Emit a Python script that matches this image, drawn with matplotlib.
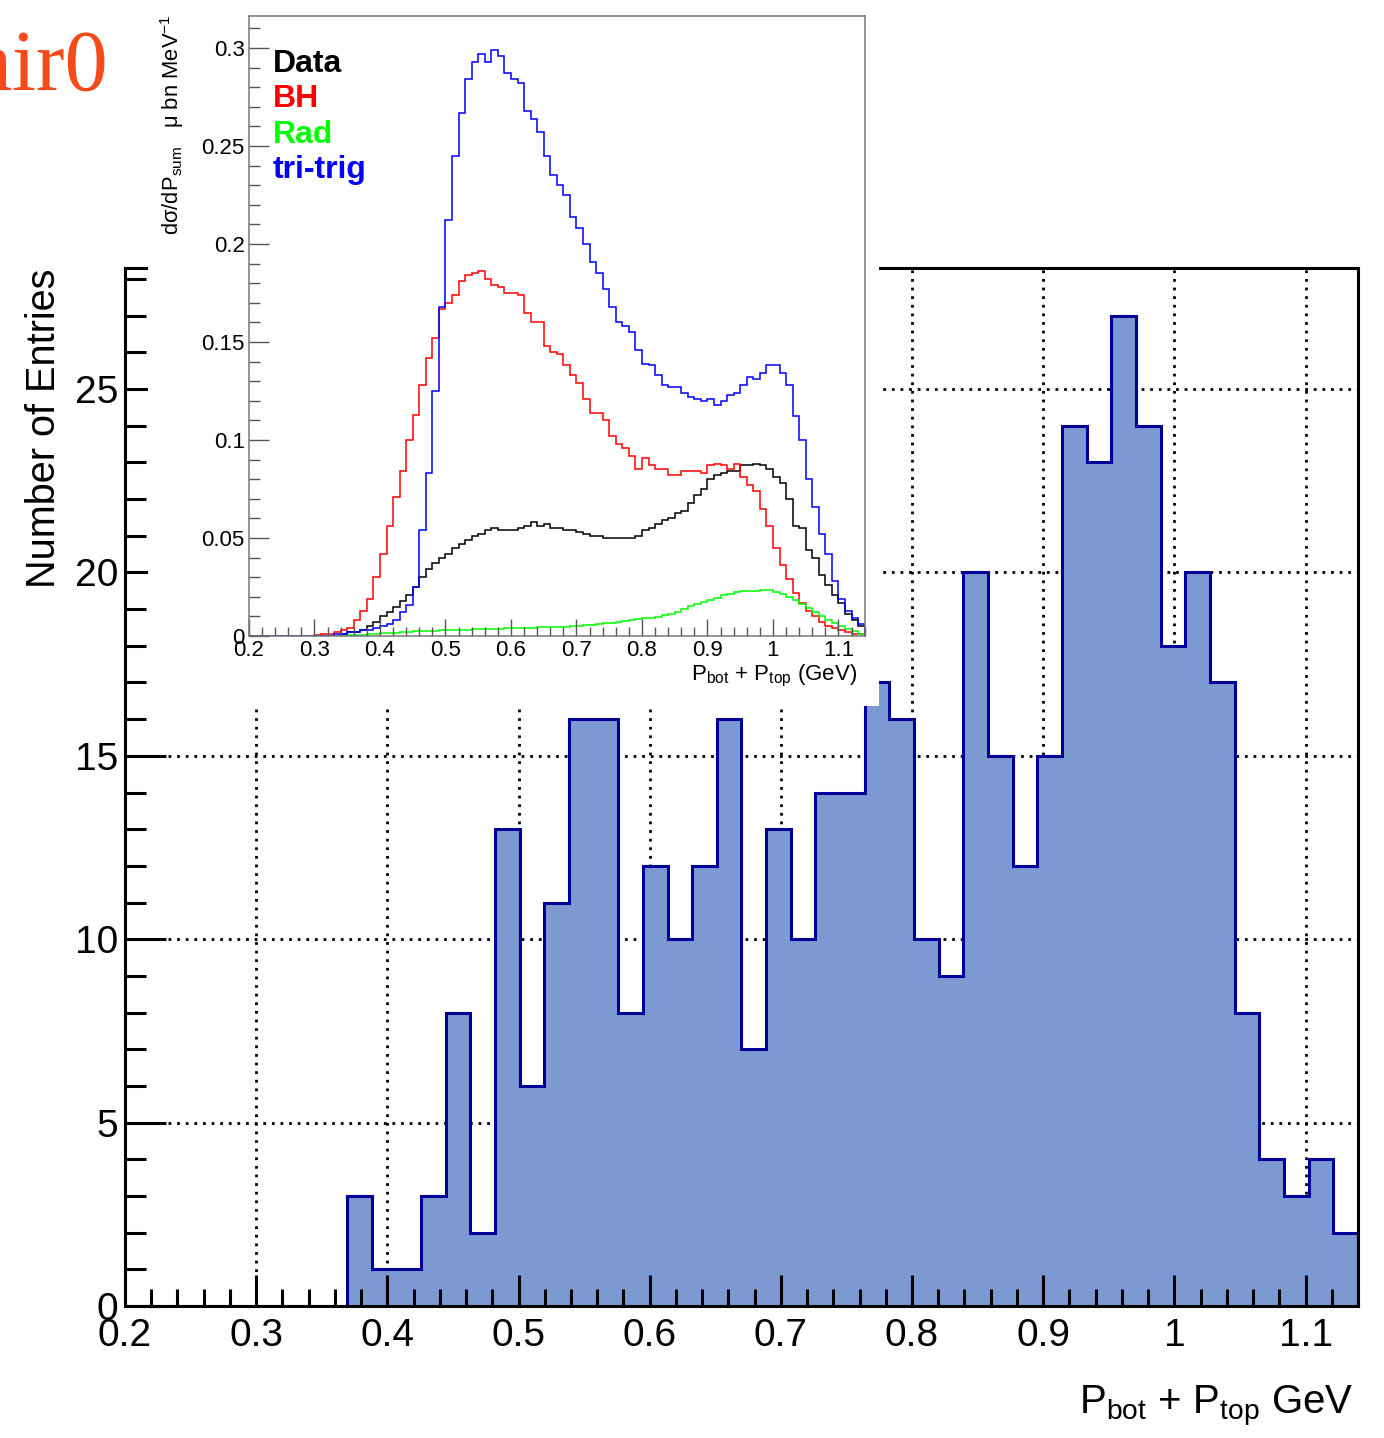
"""Histogramme P_bot + P_top (pair0) avec encart des sections efficaces simulées."""

import matplotlib

matplotlib.use("Agg")
import matplotlib.pyplot as plt
import numpy as np
from matplotlib.patches import Rectangle
from matplotlib.ticker import FuncFormatter, MultipleLocator

plt.rcParams["font.family"] = ["Liberation Sans", "DejaVu Sans"]
plt.rcParams["mathtext.fontset"] = "custom"
plt.rcParams["mathtext.rm"] = "Liberation Sans"
plt.rcParams["mathtext.it"] = "Liberation Sans:italic"
plt.rcParams["mathtext.bf"] = "Liberation Sans:bold"
plt.rcParams["mathtext.default"] = "regular"

# --- histogramme principal : 50 bins entre 0.2 et 1.14 GeV
MAIN_RANGE = (0.2, 1.14)
MAIN_NBINS = 50
main_counts = [0, 0, 0, 0, 0, 0, 0, 0, 0,
               3, 1, 1, 3, 8, 2, 13, 6, 11, 16,
               16, 8, 12, 10, 12, 16, 7, 13, 10, 14,
               14, 17, 16, 10, 9, 20, 15, 12, 15, 24,
               23, 27, 24, 18, 20, 17, 8, 4, 3, 4, 2]

# --- encart : dσ/dP_sum, bins de 0.01 GeV entre 0.2 et 1.14
INSET_STEP = 0.01
data_xs = ([0.0] * 14 + [
    0.001, 0.002, 0.002, 0.003, 0.005, 0.007, 0.010, 0.012, 0.015, 0.018,
    0.021, 0.025, 0.030, 0.034, 0.037, 0.040, 0.042, 0.045, 0.047, 0.049,
    0.051, 0.052, 0.054, 0.055, 0.054, 0.054, 0.054, 0.055, 0.056, 0.058,
    0.056, 0.057, 0.055,
    0.055, 0.054, 0.054, 0.053, 0.052, 0.051, 0.051, 0.050, 0.050, 0.050,
    0.050, 0.050, 0.051, 0.054, 0.055, 0.057, 0.059, 0.060, 0.063, 0.064,
    0.068, 0.072, 0.075, 0.080, 0.082, 0.083, 0.084, 0.084, 0.087, 0.087,
    0.088, 0.087, 0.085, 0.081, 0.078, 0.070, 0.056, 0.055, 0.044, 0.040,
    0.031, 0.026, 0.021, 0.017, 0.011, 0.008, 0.005])
bh_xs = ([0.0] * 10 + [
    0.0005, 0.001, 0.001, 0.002, 0.003, 0.004, 0.008, 0.013, 0.019, 0.030,
    0.042, 0.056, 0.071, 0.084, 0.100, 0.113, 0.128, 0.142, 0.152, 0.167,
    0.170, 0.174, 0.181, 0.184, 0.185, 0.186, 0.182, 0.179, 0.178, 0.175,
    0.175, 0.174, 0.165, 0.160, 0.160, 0.148, 0.145,
    0.144, 0.138, 0.133, 0.129, 0.121, 0.114, 0.114, 0.110, 0.102, 0.098,
    0.096, 0.092, 0.085, 0.091, 0.087, 0.085, 0.085, 0.082, 0.082, 0.084,
    0.084, 0.084, 0.083, 0.087, 0.088, 0.087, 0.085, 0.088, 0.081, 0.077,
    0.074, 0.065, 0.056, 0.045, 0.036, 0.029, 0.022, 0.017, 0.013, 0.010,
    0.007, 0.005, 0.004, 0.003, 0.002, 0.001, 0.001])
rad_xs = ([0.0] * 15 + [
    0.0003, 0.0005, 0.0007, 0.0009, 0.0011, 0.0013, 0.0015, 0.0017, 0.0019, 0.0021,
    0.0023, 0.0025, 0.0026, 0.0027, 0.0029, 0.0030, 0.0031, 0.0032, 0.0033, 0.0034,
    0.0035, 0.0036, 0.0037, 0.0038, 0.0039, 0.0040, 0.0041, 0.0042, 0.0043, 0.0044,
    0.0044, 0.0045, 0.0046, 0.0048, 0.0050, 0.0052, 0.0054, 0.0056, 0.0060, 0.0064,
    0.0068, 0.0073, 0.0078, 0.0082, 0.0086, 0.0090, 0.0094, 0.0099, 0.0105, 0.0113,
    0.0124, 0.0138, 0.0152, 0.0165, 0.0175, 0.0185, 0.0196, 0.0207, 0.0216, 0.0224,
    0.0229, 0.0230, 0.0232, 0.0236, 0.0233, 0.0224, 0.0212, 0.0198, 0.0182, 0.0165,
    0.0144, 0.0120, 0.0100, 0.0082, 0.0064, 0.0050, 0.0036, 0.0024, 0.0012])
tritrig_xs = ([0.0] * 13 + [
    0.001, 0.001, 0.002, 0.002, 0.003, 0.003, 0.004, 0.005, 0.006, 0.008,
    0.012, 0.016, 0.025, 0.054, 0.083, 0.125, 0.168, 0.212, 0.245, 0.267,
    0.284, 0.293, 0.297, 0.293, 0.299, 0.296, 0.287, 0.284, 0.282, 0.268,
    0.264, 0.257, 0.245, 0.235,
    0.230, 0.225, 0.214, 0.208, 0.200, 0.191, 0.185, 0.177, 0.168, 0.160,
    0.158, 0.155, 0.146, 0.139, 0.138, 0.133, 0.128, 0.127, 0.127, 0.124,
    0.122, 0.121, 0.120, 0.121, 0.118, 0.120, 0.123, 0.124, 0.128, 0.132,
    0.131, 0.134, 0.138, 0.138, 0.134, 0.128, 0.112, 0.100, 0.080, 0.066,
    0.052, 0.042, 0.028, 0.019, 0.013, 0.009, 0.006])

inset_series = [("Data", data_xs, "black"),
                ("BH", bh_xs, "#ff0000"),
                ("Rad", rad_xs, "#00ff00"),
                ("tri-trig", tritrig_xs, "#0000ff")]

W, H = 1384, 1438


def fx(px):
    return px / W


def fy(py):
    return 1.0 - py / H


def tick_fmt(v, _pos):
    return f"{round(v, 3):g}"


fig = plt.figure(figsize=(W / 100, H / 100), dpi=100)

# ---------------- panneau principal
ax = fig.add_axes([fx(125), fy(1306), fx(1358) - fx(125), fy(268) - fy(1306)], zorder=0)
edges = np.linspace(*MAIN_RANGE, MAIN_NBINS + 1)
ax.set_xlim(*MAIN_RANGE)
ax.set_ylim(0, 28.3)
ax.xaxis.set_major_locator(MultipleLocator(0.1))
ax.xaxis.set_minor_locator(MultipleLocator(0.02))
ax.yaxis.set_major_locator(MultipleLocator(5))
ax.yaxis.set_minor_locator(MultipleLocator(1))
ax.xaxis.set_major_formatter(FuncFormatter(tick_fmt))
ax.yaxis.set_major_formatter(FuncFormatter(tick_fmt))

# grille pointillée sous le remplissage
dots = (0, (1, 2.1))
for xv in np.arange(0.3, 1.11, 0.1):
    ax.axvline(xv, color="black", lw=2.0, linestyle=dots, zorder=0.5)
for yv in range(5, 26, 5):
    ax.axhline(yv, color="black", lw=2.0, linestyle=dots, zorder=0.5)

ax.stairs(main_counts, edges, fill=True, color="#7d99d1", zorder=1)
ax.stairs(main_counts, edges, color="#000099", linewidth=2.2, zorder=2)

for side in ("left", "bottom", "right", "top"):
    ax.spines[side].set_linewidth(2.2)
ax.tick_params(which="both", direction="in", top=False, right=False,
               width=2.2, color="black", labelsize=28)
ax.tick_params(axis="x", which="major", length=22, pad=9)
ax.tick_params(axis="x", which="minor", length=12)
ax.tick_params(axis="y", which="major", length=29.5, pad=5)
ax.tick_params(axis="y", which="minor", length=15)

fig.text(fx(44), fy(269), "Number of Entries", rotation=90, ha="center", va="top",
         fontsize=28.5)
fig.text(fx(1353), fy(1413), r"P$_{bot}$ + P$_{top}$ GeV", ha="right", va="baseline",
         fontsize=29)

fig.text(fx(108), fy(90), "Pair0", ha="right", va="baseline", fontsize=62,
         family="Liberation Serif", color="#f74a1a")

# ---------------- fond blanc du pad de l'encart
fig.add_artist(Rectangle((fx(148), fy(706)), fx(879) - fx(148), fy(0) - fy(706),
                         transform=fig.transFigure, facecolor="white",
                         edgecolor="none", zorder=1))

# ---------------- encart
ins = fig.add_axes([fx(249), fy(636), fx(865) - fx(249), fy(16) - fy(636)], zorder=2)
ins_edges = np.round(np.arange(0.2, 1.14 + INSET_STEP / 2, INSET_STEP), 3)
for _label, values, color in inset_series:
    ins.stairs(values, ins_edges, color=color, linewidth=1.1)
ins.set_xlim(0.2, 1.1405)
ins.set_ylim(0, 0.3163)
ins.xaxis.set_major_locator(MultipleLocator(0.1))
ins.xaxis.set_minor_locator(MultipleLocator(0.02))
ins.yaxis.set_major_locator(MultipleLocator(0.05))
ins.yaxis.set_minor_locator(MultipleLocator(0.01))
ins.xaxis.set_major_formatter(FuncFormatter(tick_fmt))
ins.yaxis.set_major_formatter(FuncFormatter(tick_fmt))
for side in ("left", "bottom", "right", "top"):
    ins.spines[side].set_linewidth(1.1)
    ins.spines[side].set_color("#777777")
ins.tick_params(which="both", direction="in", top=False, right=False,
                width=1.0, color="#555555", labelsize=16)
ins.tick_params(axis="x", which="major", length=12, pad=3)
ins.tick_params(axis="x", which="minor", length=6.5)
ins.tick_params(axis="y", which="major", length=14.4, pad=3)
ins.tick_params(axis="y", which="minor", length=8)

fig.text(fx(857), fy(680), r"P$_{bot}$ + P$_{top}$ (GeV)", ha="right", va="baseline",
         fontsize=16, zorder=3)
fig.text(fx(172), fy(14), r"dσ/dP$_{sum}$   μ bn MeV$^{-1}$", rotation=90,
         ha="center", va="top", fontsize=15.8, zorder=3)

for i, (label, _values, color) in enumerate(inset_series):
    fig.text(fx(273), fy(72 + 35.3 * i), label, ha="left", va="baseline",
             fontsize=23, fontweight="bold", color=color, zorder=3)

fig.savefig("out.png", dpi=100)
